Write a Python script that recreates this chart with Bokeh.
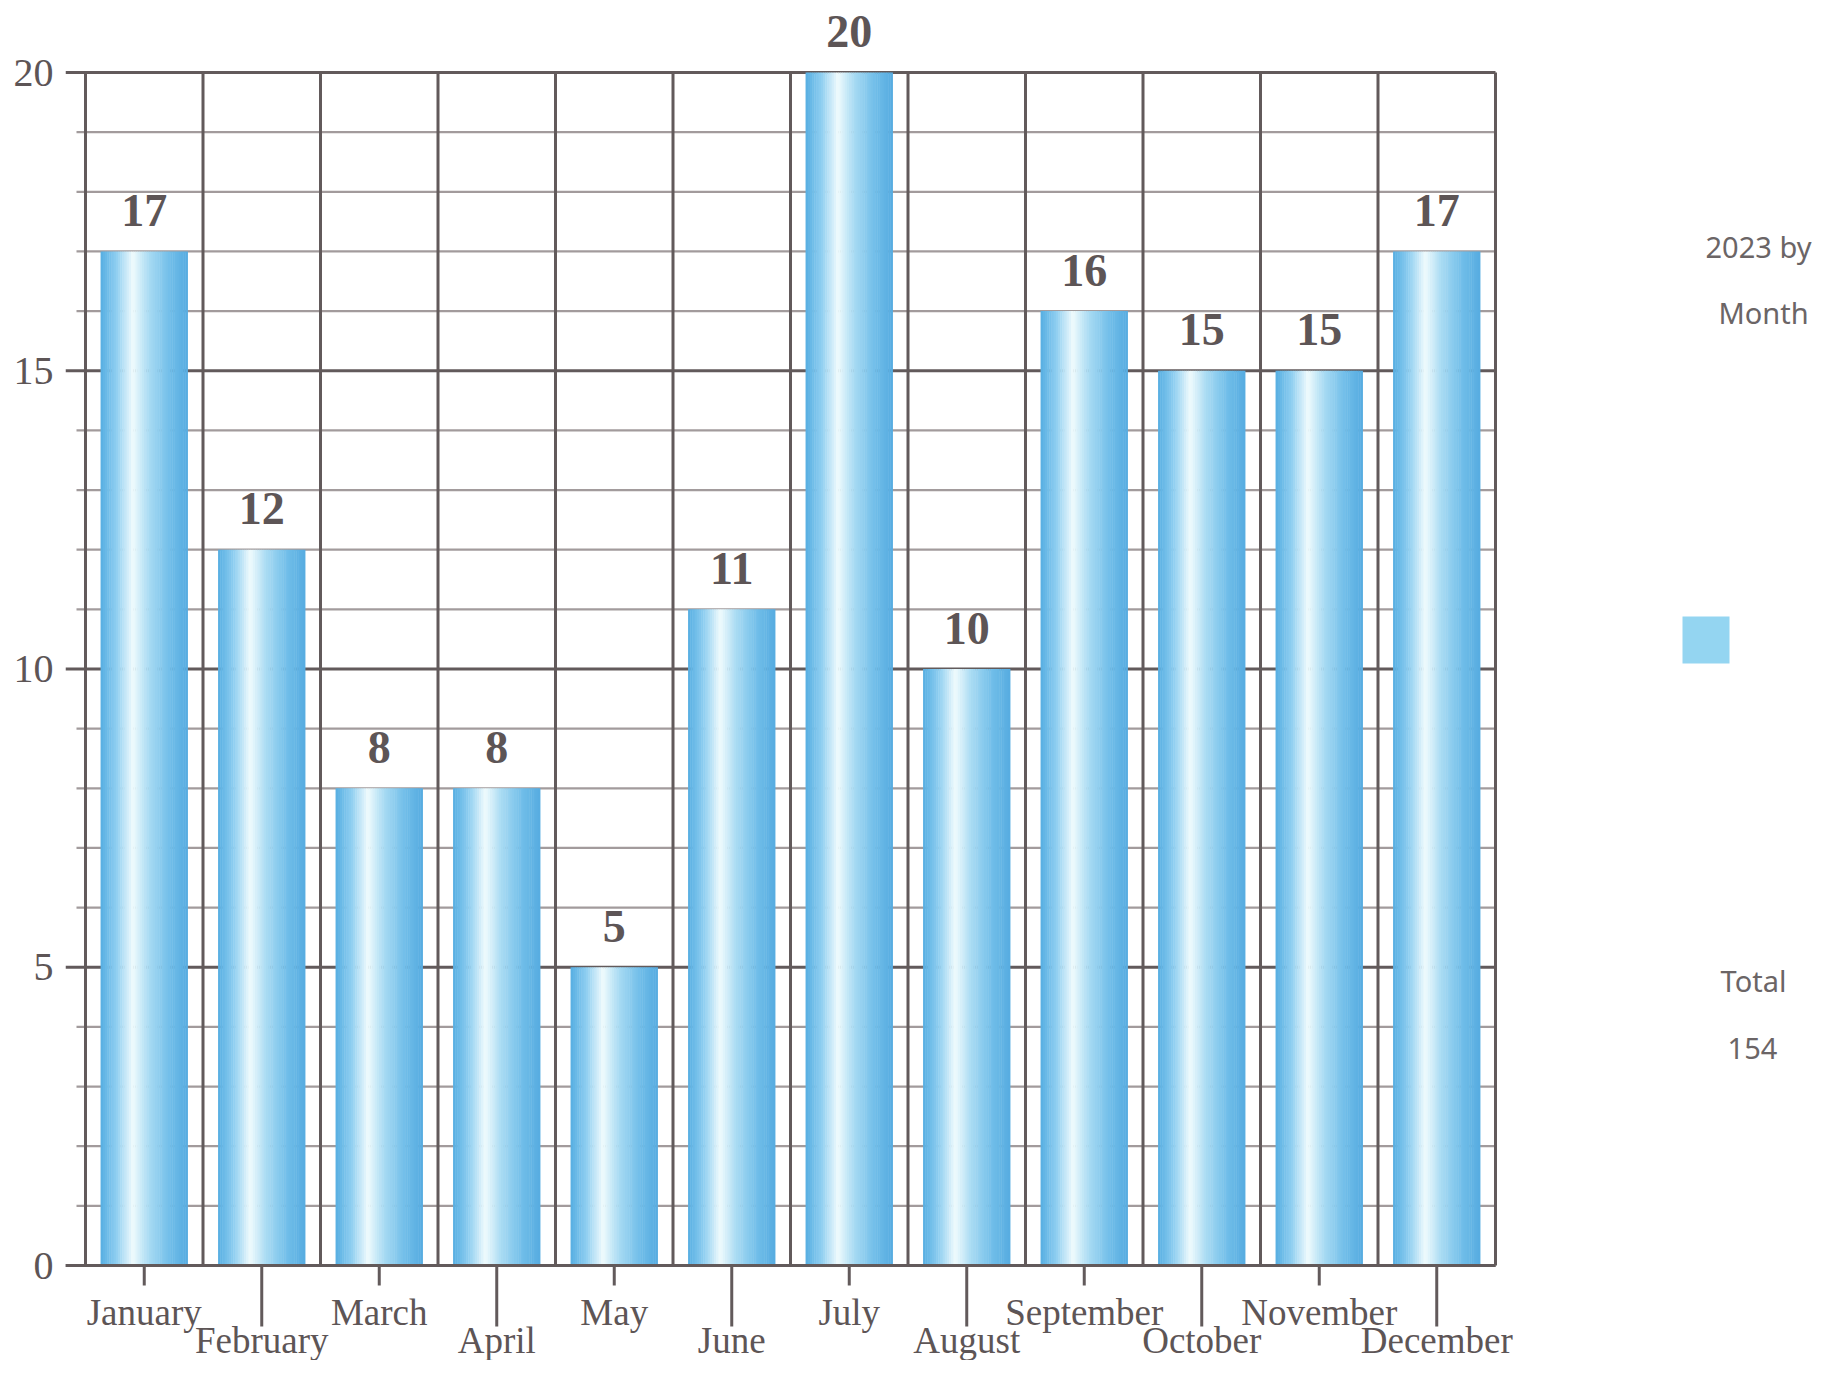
from bokeh.plotting import figure
from bokeh.models import FixedTicker, ColumnDataSource, Range1d
from bokeh.core.properties import value
from bokeh.embed import file_html
from bokeh.resources import INLINE

# ---------------- data ----------------
months = ["January", "February", "March", "April", "May", "June",
          "July", "August", "September", "October", "November", "December"]
counts = [17, 12, 8, 8, 5, 11, 20, 10, 16, 15, 15, 17]
y_ticks = [0, 5, 10, 15, 20]
legend_title = ["2023 by", "Month"]
total_title = "Total"
total_value = sum(counts)

# ---------------- layout ----------------
W, H = 1812, 1360
X0_PX = 85          # canvas x of the first category boundary
Y0_PX = 1265        # canvas y of value 0
PX_PER_CAT = 117.5
PX_PER_VAL = 59.65
FRAME_LEFT = 65

x_start = -(X0_PX - FRAME_LEFT) / PX_PER_CAT
x_end = x_start + (W - FRAME_LEFT) / PX_PER_CAT
y_start = -(H - Y0_PX) / PX_PER_VAL
y_end = Y0_PX / PX_PER_VAL

def ux(px):
    return px / PX_PER_CAT

def uy(px):
    return px / PX_PER_VAL

def cx(px):   # canvas x -> data x
    return (px - X0_PX) / PX_PER_CAT

def cy(px):   # canvas y -> data y
    return (Y0_PX - px) / PX_PER_VAL

DARK = "#625a5b"
MINOR = "#a29b9c"
TEXT = "#5d5556"

p = figure(width=W, height=H,
           x_range=Range1d(x_start, x_end), y_range=Range1d(y_start, y_end),
           output_backend="svg", toolbar_location=None,
           x_axis_location=None, y_axis_location="left",
           min_border_left=FRAME_LEFT, min_border_right=0,
           min_border_top=0, min_border_bottom=0)
p.outline_line_color = None
p.grid.visible = False
p.background_fill_color = "white"
p.border_fill_color = "white"

n = len(months)
ymax = y_ticks[-1]
centers = [i + 0.5 for i in range(n)]

# y axis (labels only; tick marks drawn as grid extensions)
p.yaxis.ticker = FixedTicker(ticks=y_ticks)
p.yaxis.axis_line_color = None
p.yaxis.major_tick_line_color = None
p.yaxis.minor_tick_line_color = None
p.yaxis.major_tick_out = 0
p.yaxis.major_tick_in = 0
p.yaxis.minor_tick_out = 0
p.yaxis.major_label_standoff = 12
p.yaxis.major_label_text_font = "Liberation Serif"
p.yaxis.major_label_text_font_size = "40px"
p.yaxis.major_label_text_color = TEXT

# grid: minor horizontal lines
minor_vals = [v for v in range(y_ticks[0], ymax + 1) if v not in y_ticks]
p.segment(x0=[-ux(9)] * len(minor_vals), x1=[n] * len(minor_vals),
          y0=minor_vals, y1=minor_vals, line_color=MINOR, line_width=2.2)
# major horizontal lines
p.segment(x0=[x_start] * len(y_ticks), x1=[n] * len(y_ticks),
          y0=y_ticks, y1=y_ticks, line_color=DARK, line_width=3)
# vertical lines at category boundaries
bounds = list(range(n + 1))
p.segment(x0=bounds, x1=bounds, y0=[0] * len(bounds), y1=[ymax] * len(bounds),
          line_color=DARK, line_width=3)

# bars with a cylindrical horizontal gradient (stripes)
stops = [(0.0, (86, 174, 226)), (0.18, (142, 206, 240)), (0.37, (240, 251, 253)),
         (0.55, (170, 220, 243)), (0.8, (112, 189, 233)), (1.0, (86, 172, 224))]

def grad(t):
    for (t0, c0), (t1, c1) in zip(stops[:-1], stops[1:]):
        if t0 <= t <= t1:
            f = (t - t0) / (t1 - t0)
            c = [round(a + (b - a) * f) for a, b in zip(c0, c1)]
            return "#%02x%02x%02x" % tuple(c)
    return "#%02x%02x%02x" % stops[-1][1]

N = 40
bar_w = 0.74
sx, stop, scol = [], [], []
for k in range(N):
    t = (k + 0.5) / N
    col = grad(t)
    for i in range(n):
        sx.append(centers[i] - bar_w / 2 + (k + 0.5) * bar_w / N)
        stop.append(counts[i])
        scol.append(col)
src = ColumnDataSource(dict(x=sx, top=stop, color=scol))
p.vbar(x="x", top="top", bottom=0, width=bar_w / N * 1.2, source=src,
       fill_color="color", line_color=None)

# baseline drawn over bars
p.segment(x0=[x_start], x1=[n], y0=[0], y1=[0], line_color=DARK, line_width=3)

# value labels
p.text(x=centers, y=[c + uy(41) for c in counts], text=[str(c) for c in counts],
       text_font=value("Liberation Serif"), text_font_style="bold",
       text_font_size=value("46px"), text_color=TEXT,
       text_align="center", text_baseline="middle")

# x tick marks (alternating short / long)
tick_end = [-uy(20) if i % 2 == 0 else -uy(61) for i in range(n)]
p.segment(x0=centers, x1=centers, y0=[0] * n, y1=tick_end, line_color=DARK, line_width=3)

# month labels in two staggered rows
row_y = [cy(1312) if i % 2 == 0 else cy(1340) for i in range(n)]
p.text(x=centers, y=row_y, text=months,
       text_font=value("Liberation Serif"), text_font_size=value("37px"),
       text_color=TEXT, text_align="center", text_baseline="middle")

# legend on the right
LEG = "#6b6566"
p.text(x=[cx(1758), cx(1763)], y=[cy(246), cy(312)], text=legend_title,
       text_font=value("Noto Sans"), text_font_size=value("29px"),
       text_color=LEG, text_align="center", text_baseline="middle")
p.scatter(x=[cx(1705.5)], y=[cy(639.5)], marker="square", size=47,
          fill_color="#94d5f1", line_color=None)
p.text(x=[cx(1753), cx(1752)], y=[cy(980), cy(1048)], text=[total_title, str(total_value)],
       text_font=value("Noto Sans"), text_font_size=value("29px"),
       text_color=LEG, text_align="center", text_baseline="middle")

open("out.html", "w").write(file_html(p, INLINE))
